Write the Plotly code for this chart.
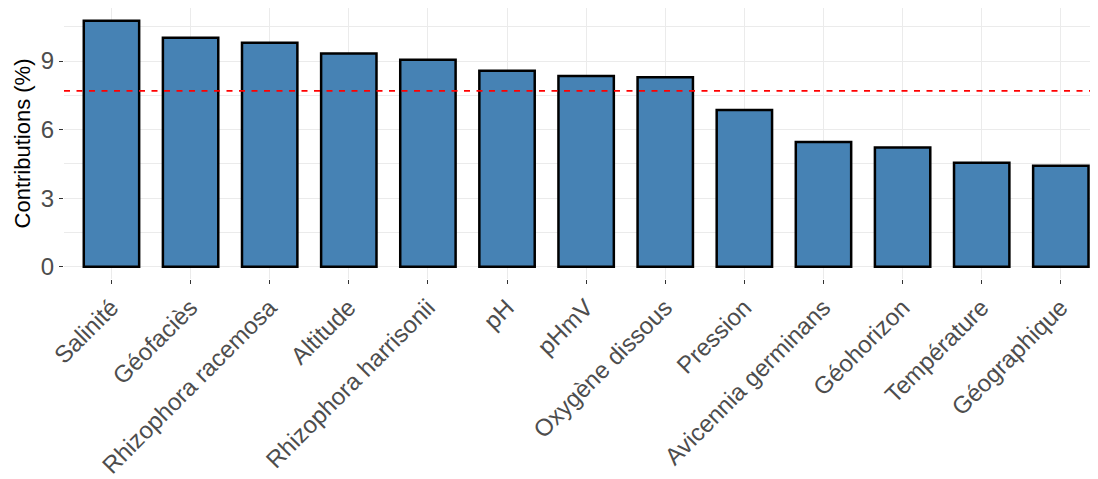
import plotly.graph_objects as go

variables = ["Salinité", "Géofaciès", "Rhizophora racemosa", "Altitude",
             "Rhizophora harrisonii", "pH", "pHmV", "Oxygène dissous",
             "Pression", "Avicennia germinans", "Géohorizon", "Température",
             "Géographique"]
contributions = [10.76, 10.02, 9.80, 9.33, 9.06, 8.57, 8.34, 8.29,
                 6.86, 5.46, 5.21, 4.55, 4.42]
expected = 100 / len(variables)
y_ticks = [0, 3, 6, 9]

fig = go.Figure()
fig.add_trace(go.Bar(
    x=variables, y=contributions, width=0.7,
    marker=dict(color="#4682B4", line=dict(color="black", width=2.5)),
    showlegend=False,
))
fig.add_shape(type="line", xref="paper", yref="y", x0=0, x1=1,
              y0=expected, y1=expected, layer="above",
              line=dict(color="red", width=1.8, dash="6px,6.5px"))

fig.update_layout(
    width=1090, height=471,
    margin=dict(l=56, r=0, t=0, b=200),
    plot_bgcolor="white", paper_bgcolor="white",
    font=dict(family="Arial, Liberation Sans, sans-serif", color="#4D4D4D"),
)
fig.update_xaxes(
    range=[-0.6, 12.47], tickangle=-45, showgrid=True, gridcolor="#EBEBEB",
    gridwidth=1, ticks="outside", ticklen=4, tickcolor="#333333", tickwidth=1,
    tickfont=dict(size=24, color="#4D4D4D"), zeroline=False, showline=False,
)
fig.update_yaxes(
    range=[-0.54, 11.32], tickvals=y_ticks, ticktext=[str(t) for t in y_ticks],
    showgrid=True, gridcolor="#EBEBEB", gridwidth=1,
    minor=dict(tickvals=[1.5, 4.5, 7.5, 10.5], showgrid=True,
               gridcolor="#EBEBEB", gridwidth=0.6),
    ticks="outside", ticklen=4, tickcolor="#333333", tickwidth=1,
    tickfont=dict(size=24, color="#4D4D4D"), zeroline=False, showline=False,
    title=dict(text="Contributions (%)", font=dict(size=22, color="black"),
               standoff=4),
)

fig.write_html("out.html")
